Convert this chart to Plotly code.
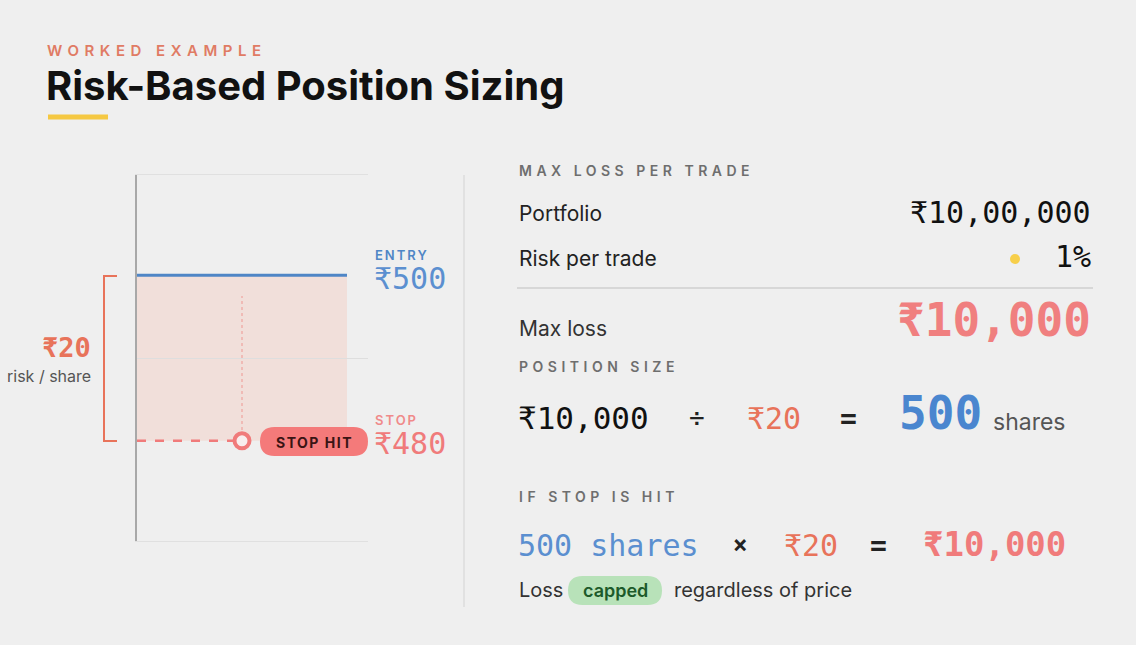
import plotly.graph_objects as go

# Trade setup shown in the worked example
entry_price = 500
stop_price = 480
risk_per_share = entry_price - stop_price
portfolio_label = "₹10,00,000"
risk_pct_label = "1%"
max_loss_label = "₹10,000"
shares = 500

# time axis of the little price chart
line_x = [0, 10]
hit_x = 5
x_range = [0, 11]
y_range = [467.9, 512.1]
grid_vals = [490]
dotted_y = [481.3, 497.5]

W, H = 1136, 645
BG = "#efefef"
BLUE = "#4f86c6"
PINK = "#f07b7b"
ORANGE = "#e8735a"
MONO = "DejaVu Sans Mono"
SANS = "Inter"


def px(x):
    return x / W


def py(y):
    return 1 - y / H


def pt(x, y):
    return f"{px(x):.5f},{py(y):.5f}"


def pill(x0, y0, x1, y1, color):
    r = (y1 - y0) / 2
    ym = (y0 + y1) / 2
    path = (f"M {pt(x0 + r, y0)} L {pt(x1 - r, y0)} "
            f"Q {pt(x1, y0)} {pt(x1, ym)} Q {pt(x1, y1)} {pt(x1 - r, y1)} "
            f"L {pt(x0 + r, y1)} Q {pt(x0, y1)} {pt(x0, ym)} "
            f"Q {pt(x0, y0)} {pt(x0 + r, y0)} Z")
    return dict(type="path", xref="paper", yref="paper", path=path,
                fillcolor=color, line=dict(width=0), layer="above")


def spaced(s, gap):
    return f'<span style="letter-spacing:{gap}px">{s}</span>'


fig = go.Figure()

# risk zone between entry and stop
fig.add_shape(type="rect", xref="x", yref="y", x0=line_x[0], x1=line_x[1],
              y0=stop_price, y1=entry_price, fillcolor="#f1dfda",
              line=dict(width=0), layer="below")

fig.add_trace(go.Scatter(x=[hit_x, hit_x], y=dotted_y, mode="lines",
                         line=dict(color="#f0b0aa", width=1.5, dash="dot"),
                         hoverinfo="skip"))
fig.add_trace(go.Scatter(x=line_x, y=[entry_price] * 2, mode="lines",
                         line=dict(color=BLUE, width=3), hoverinfo="skip"))
fig.add_trace(go.Scatter(x=[line_x[0], hit_x], y=[stop_price] * 2, mode="lines",
                         line=dict(color=PINK, width=2.5, dash="dash"),
                         hoverinfo="skip"))
fig.add_trace(go.Scatter(x=[hit_x], y=[stop_price], mode="markers",
                         marker=dict(size=15, color="#f8eeee",
                                     line=dict(color=PINK, width=4)),
                         hoverinfo="skip", cliponaxis=False))

shapes = []
# bracket on the left
shapes.append(dict(type="path", xref="paper", yref="paper",
                   path=f"M {pt(117, 276)} L {pt(104, 276)} L {pt(104, 441)} L {pt(117, 441)}",
                   line=dict(color=ORANGE, width=2)))
# panel separator
shapes.append(dict(type="line", xref="paper", yref="paper",
                   x0=px(464), x1=px(464), y0=py(175), y1=py(607),
                   line=dict(color="#dcdcdc", width=1.5)))
# title underline
shapes.append(dict(type="line", xref="paper", yref="paper",
                   x0=px(48), x1=px(108), y0=py(117), y1=py(117),
                   line=dict(color="#f5c842", width=5)))
# divider in the right panel
shapes.append(dict(type="line", xref="paper", yref="paper",
                   x0=px(517), x1=px(1093), y0=py(288), y1=py(288),
                   line=dict(color="#cfcfcf", width=1.5)))
# yellow dot
shapes.append(dict(type="circle", xref="paper", yref="paper",
                   x0=px(1010), x1=px(1020), y0=py(254), y1=py(264),
                   fillcolor="#f7cf4a", line=dict(width=0)))
shapes.append(pill(260, 427, 368, 456, "#f47a7a"))
shapes.append(pill(568, 576, 662, 605, "#b8e2b9"))
for s in shapes:
    fig.add_shape(**s)

ann = []


def txt(text, x, y, size, color, family=SANS, weight=400, anchor="left"):
    ann.append(dict(text=text, x=px(x), y=py(y), xref="paper", yref="paper",
                    xanchor=anchor, yanchor="middle", showarrow=False,
                    font=dict(family=family, size=size, color=color, weight=weight)))


# header
txt(spaced("WORKED EXAMPLE", 5.5), 45, 50, 15, "#e07b64", weight=600)
txt("Risk-Based Position Sizing", 44, 86, 40, "#111111", weight=700)

# chart labels
txt(spaced("ENTRY", 2), 373, 255, 13, BLUE, weight=600)
txt(f"₹{entry_price}", 372, 279, 30, "#5b8fd0", family=MONO)
txt(spaced("STOP", 2), 373, 420, 13, "#f08a8a", weight=600)
txt(f"₹{stop_price}", 372, 443, 30, PINK, family=MONO)
txt(f"₹{risk_per_share}", 93, 347, 27, ORANGE, family=MONO, weight=700, anchor="right")
txt("risk / share", 93, 376, 16, "#555555", anchor="right")
txt(spaced("STOP HIT", 1.5), 314, 442, 14, "#3a1414", weight=700, anchor="center")

# right panel
txt(spaced("MAX LOSS PER TRADE", 4.5), 517, 170, 14, "#6e6e6e", weight=600)
txt("Portfolio", 517, 214, 21, "#222222")
txt(portfolio_label, 1093, 212, 30, "#111111", family=MONO, anchor="right")
txt("Risk per trade", 517, 258, 21, "#222222")
txt(risk_pct_label, 1093, 256, 30, "#111111", family=MONO, anchor="right")
txt("Max loss", 517, 328, 21, "#333333")
txt(max_loss_label, 1093, 320, 46, "#f07f7f", family=MONO, weight=700, anchor="right")

txt(spaced("POSITION SIZE", 4.5), 517, 366, 14, "#6e6e6e", weight=600)
txt(max_loss_label, 516, 418, 31, "#111111", family=MONO)
txt("÷", 697, 418, 26, "#222222", family=MONO, anchor="center")
txt(f"₹{risk_per_share}", 745, 418, 30, ORANGE, family=MONO)
txt("=", 848, 418, 28, "#222222", family=MONO, weight=700, anchor="center")
txt(f"{shares}", 897, 413, 46, "#4a86cf", family=MONO, weight=700)
txt("shares", 991, 422, 23, "#555555")

txt(spaced("IF STOP IS HIT", 4.5), 517, 496, 14, "#6e6e6e", weight=600)
txt(f"{shares} shares", 516, 545, 30, "#5b8fd0", family=MONO)
txt("×", 740, 545, 24, "#222222", family=MONO, weight=700, anchor="center")
txt(f"₹{risk_per_share}", 782, 545, 30, ORANGE, family=MONO)
txt("=", 878, 545, 28, "#222222", family=MONO, weight=700, anchor="center")
txt(max_loss_label, 921, 544, 34, PINK, family=MONO, weight=700)

txt("Loss", 517, 590, 20, "#333333")
txt("capped", 615, 590, 18, "#1d5a2a", weight=600, anchor="center")
txt("regardless of price", 672, 590, 20, "#333333")

fig.update_layout(
    width=W, height=H,
    margin=dict(l=0, r=0, t=0, b=0),
    paper_bgcolor=BG, plot_bgcolor=BG,
    showlegend=False,
    annotations=ann,
    xaxis=dict(domain=[px(137), px(368)], range=x_range, showgrid=False,
               zeroline=False, showticklabels=False, ticks="",
               showline=True, mirror=True, linecolor="#e0e0e0", linewidth=1),
    yaxis=dict(domain=[py(541), py(175)], range=y_range, tickvals=grid_vals,
               showgrid=True, gridcolor="#dedede", gridwidth=1,
               zeroline=False, showticklabels=False, ticks="",
               showline=True, linecolor="#a8a8a8", linewidth=2),
)

fig.write_html("out.html", config={"displayModeBar": False},
               post_script="document.body.style.margin='0';"
                           "document.body.style.background='#efefef';")
